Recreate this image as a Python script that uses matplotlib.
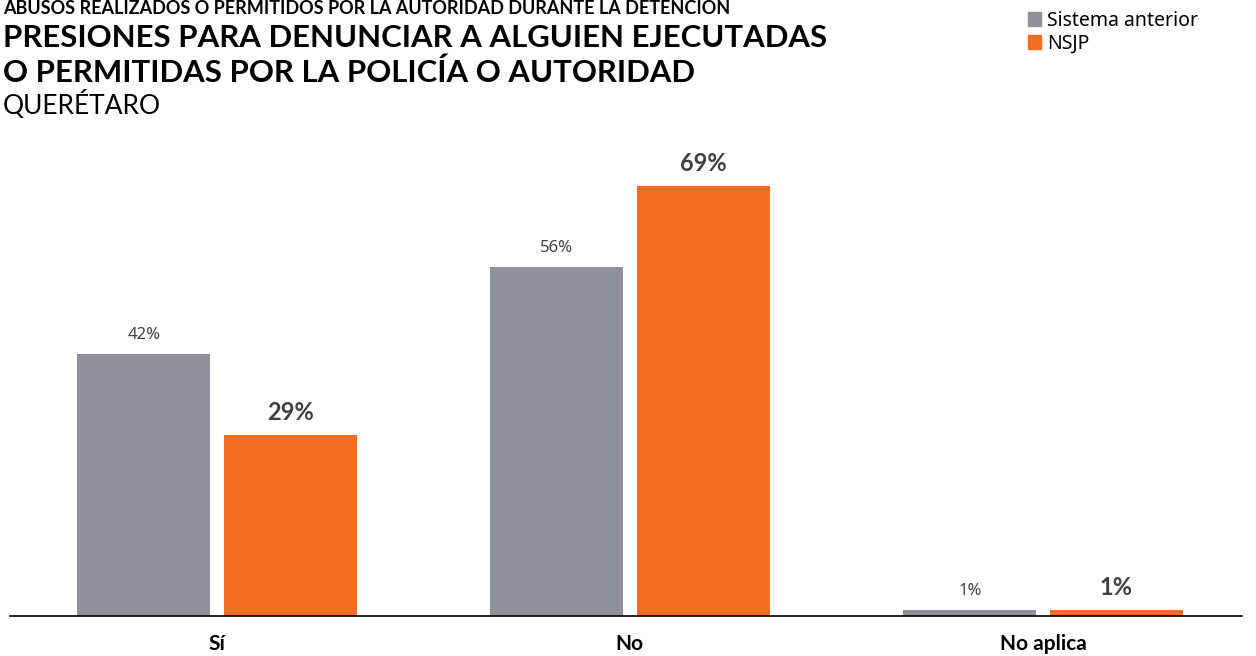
import matplotlib.pyplot as plt
from matplotlib.patches import Patch

# datos
categorias = ["Sí", "No", "No aplica"]
sistema_anterior = [42, 56, 1]
nsjp = [29, 69, 1]
series = ["Sistema anterior", "NSJP"]

gris = "#8e919c"
naranja = "#f26c22"
texto = "#404040"

plt.rcParams['font.family'] = ['Lato', 'DejaVu Sans']
etiquetas = ["Noto Sans", "DejaVu Sans"]

fig = plt.figure(figsize=(12.56, 6.56), dpi=100)
ax = fig.add_axes([10 / 1256, 1 - 616 / 656, 1232 / 1256, 476 / 656])

x = list(range(len(categorias)))
ancho = 0.322
off = 0.177
b1 = ax.bar([i - off for i in x], sistema_anterior, width=ancho, color=gris)
b2 = ax.bar([i + off for i in x], nsjp, width=ancho, color=naranja)

for r, v in zip(b1, sistema_anterior):
    ax.annotate(f"{v}%", (r.get_x() + r.get_width() / 2, r.get_height()),
                xytext=(0, 8), textcoords="offset points", ha="center", va="bottom",
                fontsize=12, color=texto, family=etiquetas)
for r, v in zip(b2, nsjp):
    ax.annotate(f"{v}%", (r.get_x() + r.get_width() / 2, r.get_height()),
                xytext=(0, 8), textcoords="offset points", ha="center", va="bottom",
                fontsize=17, fontweight="bold", color=texto)

ax.set_xlim(-0.501, 2.482)
ax.set_ylim(0, 76.4)
ax.set_xticks(x)
ax.set_xticklabels(categorias, fontsize=15, fontweight="bold")
ax.tick_params(axis="x", length=0, pad=13)
ax.set_yticks([])
for s in ["top", "right", "left"]:
    ax.spines[s].set_visible(False)
ax.spines["bottom"].set_linewidth(1.2)

# titulos
fig.text(3 / 1256, 1 - 14 / 656, "ABUSOS REALIZADOS O PERMITIDOS POR LA AUTORIDAD DURANTE LA DETENCIÓN",
         fontsize=13, fontweight="bold", va="baseline", ha="left")
fig.text(3 / 1256, 1 - 47 / 656, "PRESIONES PARA DENUNCIAR A ALGUIEN EJECUTADAS",
         fontsize=22.4, fontweight="bold", va="baseline", ha="left")
fig.text(3 / 1256, 1 - 82 / 656, "O PERMITIDAS POR LA POLICÍA O AUTORIDAD",
         fontsize=22.4, fontweight="bold", va="baseline", ha="left")
fig.text(3 / 1256, 1 - 114 / 656, "QUERÉTARO", fontsize=19, va="baseline", ha="left")

handles = [Patch(color=gris), Patch(color=naranja)]
fig.legend(handles, series, loc="upper left", bbox_to_anchor=(1020 / 1256, 1 - 3 / 656),
           frameon=False, handlelength=0.7, handleheight=0.7,
           handletextpad=0.3, labelspacing=0.15, borderaxespad=0,
           prop={"family": ["Noto Sans", "DejaVu Sans"], "size": 14})

fig.savefig("out.png", dpi=100)
